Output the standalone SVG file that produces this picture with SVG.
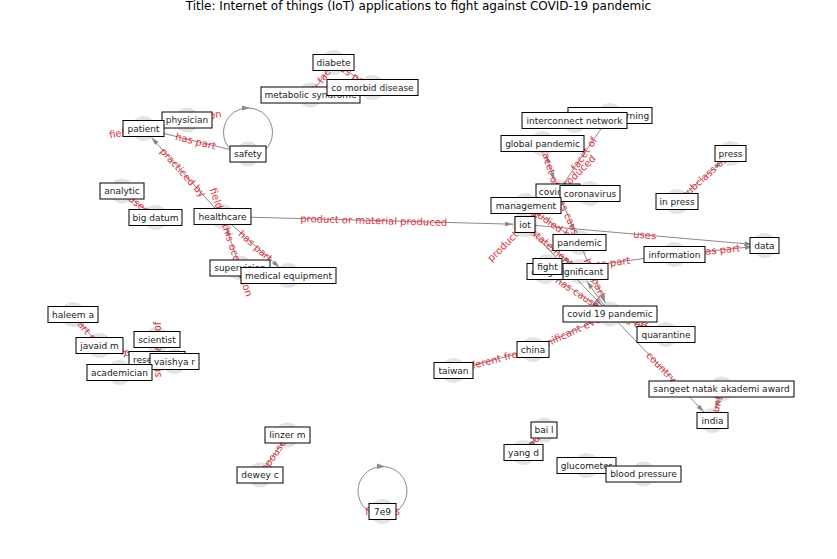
<svg xmlns="http://www.w3.org/2000/svg" width="837" height="559" viewBox="0 0 837 559">
<style>
.bg{fill:#ffffff}
.dot{fill:#e4e4e4}
.e{stroke:#8a8a8a;stroke-width:1;fill:none}
.ea{stroke:#8a8a8a;stroke-width:1;fill:none;marker-end:url(#arr)}
.el{font-family:"DejaVu Sans",sans-serif;font-size:10px;fill:#e0303c;text-anchor:middle;dominant-baseline:central}
.nb{fill:#ffffff;stroke:#000000;stroke-width:1}
.nt{font-family:"DejaVu Sans",sans-serif;font-size:9px;fill:#222222;text-anchor:middle;dominant-baseline:central}
.title{font-family:"DejaVu Sans",sans-serif;font-size:12px;fill:#000000;text-anchor:middle}
.ah{fill:#8a8a8a}
</style>
<defs>
<marker id="arr" viewBox="0 0 10 6" refX="10" refY="3" markerWidth="8" markerHeight="4.8" markerUnits="userSpaceOnUse" orient="auto-start-reverse"><path d="M0,0 L10,3 L0,6 z" fill="#8a8a8a"/></marker>
</defs>
<rect class="bg" x="0" y="0" width="837" height="559"/>
<text class="title" x="418.5" y="10">Title: Internet of things (IoT) applications to fight against COVID-19 pandemic</text>

<g id="node-markers">
<circle class="dot" cx="333.5" cy="62.5" r="12.5"/>
<circle class="dot" cx="310.5" cy="95" r="12.5"/>
<circle class="dot" cx="372.5" cy="87.5" r="12.5"/>
<circle class="dot" cx="187" cy="120" r="12.5"/>
<circle class="dot" cx="143.5" cy="128.5" r="12.5"/>
<circle class="dot" cx="248" cy="154" r="12.5"/>
<circle class="dot" cx="122" cy="191" r="12.5"/>
<circle class="dot" cx="155.5" cy="217.5" r="12.5"/>
<circle class="dot" cx="222.5" cy="216.5" r="12.5"/>
<circle class="dot" cx="240" cy="268" r="12.5"/>
<circle class="dot" cx="288.5" cy="275.5" r="12.5"/>
<circle class="dot" cx="610" cy="115.5" r="12.5"/>
<circle class="dot" cx="574.5" cy="120.5" r="12.5"/>
<circle class="dot" cx="542.5" cy="143.5" r="12.5"/>
<circle class="dot" cx="558" cy="192" r="12.5"/>
<circle class="dot" cx="590" cy="193.5" r="12.5"/>
<circle class="dot" cx="526" cy="205.5" r="12.5"/>
<circle class="dot" cx="525" cy="224.5" r="12.5"/>
<circle class="dot" cx="579.5" cy="242.5" r="12.5"/>
<circle class="dot" cx="674.5" cy="254.5" r="12.5"/>
<circle class="dot" cx="764.5" cy="245.5" r="12.5"/>
<circle class="dot" cx="730.5" cy="153.5" r="12.5"/>
<circle class="dot" cx="677" cy="201.5" r="12.5"/>
<circle class="dot" cx="545" cy="271.5" r="12.5"/>
<circle class="dot" cx="547.5" cy="266.5" r="12.5"/>
<circle class="dot" cx="580" cy="271.5" r="12.5"/>
<circle class="dot" cx="610" cy="314" r="12.5"/>
<circle class="dot" cx="666" cy="334.5" r="12.5"/>
<circle class="dot" cx="533" cy="349.5" r="12.5"/>
<circle class="dot" cx="453.5" cy="370.5" r="12.5"/>
<circle class="dot" cx="721.5" cy="389" r="12.5"/>
<circle class="dot" cx="712.5" cy="420.5" r="12.5"/>
<circle class="dot" cx="73" cy="314.5" r="12.5"/>
<circle class="dot" cx="99.5" cy="345.5" r="12.5"/>
<circle class="dot" cx="157" cy="339.5" r="12.5"/>
<circle class="dot" cx="157" cy="359.5" r="12.5"/>
<circle class="dot" cx="174.5" cy="361.5" r="12.5"/>
<circle class="dot" cx="119.5" cy="372.5" r="12.5"/>
<circle class="dot" cx="287.5" cy="435" r="12.5"/>
<circle class="dot" cx="260" cy="475" r="12.5"/>
<circle class="dot" cx="382.5" cy="511.5" r="12.5"/>
<circle class="dot" cx="544" cy="430" r="12.5"/>
<circle class="dot" cx="523.5" cy="452.5" r="12.5"/>
<circle class="dot" cx="586.5" cy="465.5" r="12.5"/>
<circle class="dot" cx="643.5" cy="474" r="12.5"/>
</g>

<g id="connectors">
<g id="edge-lines">
<line class="e" x1="333.5" y1="62.5" x2="310.5" y2="95"/>
<line class="e" x1="333.5" y1="62.5" x2="372.5" y2="87.5"/>
<line class="e" x1="187" y1="120" x2="143.5" y2="128.5"/>
<line class="e" x1="143.5" y1="128.5" x2="248" y2="154"/>
<circle class="e" cx="248" cy="132.5" r="24.5"/>
<path class="ah" d="M242,105.5 L250,108 L242,110.5 z"/>
<line class="ea" x1="222.5" y1="216.5" x2="151.5" y2="137.5"/>
<line class="ea" x1="240" y1="268" x2="226.4" y2="227.8"/>
<line class="ea" x1="222.5" y1="216.5" x2="279.5" y2="267.5"/>
<line class="e" x1="122" y1="191" x2="155.5" y2="217.5"/>
<line class="ea" x1="222.5" y1="216.5" x2="513" y2="224.2"/>
<line class="e" x1="525" y1="224.5" x2="558" y2="192"/>
<line class="ea" style="marker-start:url(#arr)" x1="546.2" y1="155" x2="554.3" y2="180.6"/>
<line class="e" x1="558" y1="192" x2="610" y2="115.5"/>
<line class="ea" x1="558" y1="192" x2="574.8" y2="231.5"/>
<line class="e" x1="526" y1="205.5" x2="579.5" y2="242.5"/>
<line class="ea" x1="525" y1="224.5" x2="570.9" y2="263.7"/>
<line class="ea" x1="525" y1="224.5" x2="601.7" y2="305.3"/>
<line class="ea" x1="545" y1="271.5" x2="600" y2="307.4"/>
<line class="ea" x1="579.5" y1="242.5" x2="605.3" y2="303"/>
<line class="ea" x1="610" y1="314" x2="586.9" y2="281.3"/>
<line class="e" x1="545" y1="271.5" x2="674.5" y2="254.5"/>
<line class="ea" x1="525" y1="224.5" x2="752.5" y2="244.4"/>
<line class="ea" x1="674.5" y1="254.5" x2="752.6" y2="246.7"/>
<line class="ea" x1="677" y1="201.5" x2="721.6" y2="161.5"/>
<line class="e" x1="533" y1="349.5" x2="610" y2="314"/>
<line class="e" x1="453.5" y1="370.5" x2="533" y2="349.5"/>
<line class="e" x1="610" y1="314" x2="666" y2="334.5"/>
<line class="ea" x1="610" y1="314" x2="703.9" y2="411.9"/>
<line class="ea" x1="721.5" y1="389" x2="715.8" y2="409"/>
<line class="e" x1="73" y1="314.5" x2="99.5" y2="345.5"/>
<line class="e" x1="99.5" y1="345.5" x2="157" y2="359.5"/>
<line class="e" x1="157" y1="359.5" x2="157" y2="339.5"/>
<line class="e" x1="260" y1="475" x2="287.5" y2="435"/>
<line class="ea" x1="523.5" y1="452.5" x2="535.9" y2="438.9"/>
<circle class="e" cx="382.5" cy="491" r="24.5"/>
<path class="ah" d="M377,463.5 L385,466.5 L377,469 z"/>
</g>
<g id="edge-labels">
<text class="el" transform="translate(322,78.75) rotate(-54.7)">risk factor</text>
<text class="el" transform="translate(353,75) rotate(32.7)">has part</text>
<text class="el" transform="translate(165.25,124.25) rotate(-11)">field of this occupation</text>
<text class="el" transform="translate(195.75,141.25) rotate(13.7)">has part</text>
<text class="el" transform="translate(183,172.5) rotate(48.1)">practiced by</text>
<text class="el" transform="translate(231.25,242.25) rotate(71.2)">field of this occupation</text>
<text class="el" transform="translate(255.5,246) rotate(41.8)">has part</text>
<text class="el" transform="translate(138.75,204.25) rotate(38.3)">uses</text>
<text class="el" transform="translate(373.75,220.5) rotate(1.5)">product or material produced</text>
<text class="el" transform="translate(541.5,208.25) rotate(-44.6)">product or material produced</text>
<text class="el" transform="translate(550.25,167.75) rotate(72.3)">facet of</text>
<text class="el" transform="translate(584,153.75) rotate(-55.8)">facet of</text>
<text class="el" transform="translate(568.75,217.25) rotate(66.9)">has cause</text>
<text class="el" transform="translate(552.75,224) rotate(34.7)">studied by</text>
<text class="el" transform="translate(552.5,248) rotate(40.5)">statement</text>
<text class="el" transform="translate(577.5,292.75) rotate(33.2)">has cause</text>
<text class="el" transform="translate(594.75,278.25) rotate(66.9)">has part</text>
<text class="el" transform="translate(609.75,263) rotate(-7.5)">has part</text>
<text class="el" transform="translate(644.75,235) rotate(5)">uses</text>
<text class="el" transform="translate(719.5,250) rotate(-5.7)">has part</text>
<text class="el" transform="translate(703.75,177.5) rotate(-41.9)">subclass of</text>
<text class="el" transform="translate(571.5,331.75) rotate(-24.8)">significant event</text>
<text class="el" transform="translate(493.25,360) rotate(-14.8)">different from</text>
<text class="el" transform="translate(638,324.25) rotate(20.1)">has effect</text>
<text class="el" transform="translate(661.25,367.25) rotate(46.1)">country</text>
<text class="el" transform="translate(717,404.75) rotate(-74)">country</text>
<text class="el" transform="translate(86.25,330) rotate(49.5)">part of</text>
<text class="el" transform="translate(128.25,352.5) rotate(13.7)">occupation</text>
<text class="el" transform="translate(157,349.5) rotate(-90)">subclass of</text>
<text class="el" transform="translate(273.75,455) rotate(-55.5)">spouse</text>
<text class="el" transform="translate(533.75,441.25) rotate(-47.7)">spouse</text>
<text class="el" transform="translate(382.5,511.5)">follows</text>
</g>
</g>

<g id="n-diabete"><rect class="nb" x="313" y="54.5" width="41" height="16"/><text class="nt" x="333.5" y="62.5">diabete</text></g>
<g id="n-metabolic-syndrome"><rect class="nb" x="261" y="87" width="99" height="16"/><text class="nt" x="310.5" y="95">metabolic syndrome</text></g>
<g id="n-co-morbid-disease"><rect class="nb" x="327" y="79.5" width="91" height="16"/><text class="nt" x="372.5" y="87.5">co morbid disease</text></g>
<g id="n-physician"><rect class="nb" x="162" y="112" width="50" height="16"/><text class="nt" x="187" y="120">physician</text></g>
<g id="n-patient"><rect class="nb" x="123" y="120.5" width="41" height="16"/><text class="nt" x="143.5" y="128.5">patient</text></g>
<g id="n-safety"><rect class="nb" x="230" y="146" width="36" height="16"/><text class="nt" x="248" y="154">safety</text></g>
<g id="n-analytic"><rect class="nb" x="100" y="183" width="44" height="16"/><text class="nt" x="122" y="191">analytic</text></g>
<g id="n-big-datum"><rect class="nb" x="129" y="209.5" width="53" height="16"/><text class="nt" x="155.5" y="217.5">big datum</text></g>
<g id="n-healthcare"><rect class="nb" x="194" y="208.5" width="57" height="16"/><text class="nt" x="222.5" y="216.5">healthcare</text></g>
<g id="n-supervision"><rect class="nb" x="210" y="260" width="60" height="16"/><text class="nt" x="240" y="268">supervision</text></g>
<g id="n-medical-equipment"><rect class="nb" x="241" y="267.5" width="95" height="16"/><text class="nt" x="288.5" y="275.5">medical equipment</text></g>
<g id="n-machine-learning"><rect class="nb" x="568" y="107.5" width="84" height="16"/><text class="nt" x="610" y="115.5">machine learning</text></g>
<g id="n-interconnect-network"><rect class="nb" x="522" y="112.5" width="105" height="16"/><text class="nt" x="574.5" y="120.5">interconnect network</text></g>
<g id="n-global-pandemic"><rect class="nb" x="501" y="135.5" width="83" height="16"/><text class="nt" x="542.5" y="143.5">global pandemic</text></g>
<g id="n-covid-19"><rect class="nb" x="536" y="184" width="44" height="16"/><text class="nt" x="558" y="192">covid 19</text></g>
<g id="n-coronavirus"><rect class="nb" x="560" y="185.5" width="60" height="16"/><text class="nt" x="590" y="193.5">coronavirus</text></g>
<g id="n-management"><rect class="nb" x="491" y="197.5" width="70" height="16"/><text class="nt" x="526" y="205.5">management</text></g>
<g id="n-iot"><rect class="nb" x="515" y="216.5" width="20" height="16"/><text class="nt" x="525" y="224.5">iot</text></g>
<g id="n-pandemic"><rect class="nb" x="553" y="234.5" width="53" height="16"/><text class="nt" x="579.5" y="242.5">pandemic</text></g>
<g id="n-information"><rect class="nb" x="644" y="246.5" width="61" height="16"/><text class="nt" x="674.5" y="254.5">information</text></g>
<g id="n-data"><rect class="nb" x="750" y="237.5" width="29" height="16"/><text class="nt" x="764.5" y="245.5">data</text></g>
<g id="n-press"><rect class="nb" x="715" y="145.5" width="31" height="16"/><text class="nt" x="730.5" y="153.5">press</text></g>
<g id="n-in-press"><rect class="nb" x="656" y="193.5" width="42" height="16"/><text class="nt" x="677" y="201.5">in press</text></g>
<g id="n-significant"><rect class="nb" x="552" y="263.5" width="56" height="16"/><text class="nt" x="580" y="271.5">significant</text></g>
<g id="n-cough"><rect class="nb" x="527" y="263.5" width="36" height="16"/><text class="nt" x="545" y="271.5">cough</text></g>
<g id="n-fight"><rect class="nb" x="533" y="258.5" width="29" height="16"/><text class="nt" x="547.5" y="266.5">fight</text></g>
<g id="n-covid-19-pandemic"><rect class="nb" x="563" y="306" width="94" height="16"/><text class="nt" x="610" y="314">covid 19 pandemic</text></g>
<g id="n-quarantine"><rect class="nb" x="637" y="326.5" width="58" height="16"/><text class="nt" x="666" y="334.5">quarantine</text></g>
<g id="n-china"><rect class="nb" x="517" y="341.5" width="32" height="16"/><text class="nt" x="533" y="349.5">china</text></g>
<g id="n-taiwan"><rect class="nb" x="434" y="362.5" width="39" height="16"/><text class="nt" x="453.5" y="370.5">taiwan</text></g>
<g id="n-sangeet-natak-akademi-award"><rect class="nb" x="649" y="381" width="145" height="16"/><text class="nt" x="721.5" y="389">sangeet natak akademi award</text></g>
<g id="n-india"><rect class="nb" x="697" y="412.5" width="31" height="16"/><text class="nt" x="712.5" y="420.5">india</text></g>
<g id="n-haleem-a"><rect class="nb" x="48" y="306.5" width="50" height="16"/><text class="nt" x="73" y="314.5">haleem a</text></g>
<g id="n-javaid-m"><rect class="nb" x="76" y="337.5" width="47" height="16"/><text class="nt" x="99.5" y="345.5">javaid m</text></g>
<g id="n-scientist"><rect class="nb" x="134" y="331.5" width="46" height="16"/><text class="nt" x="157" y="339.5">scientist</text></g>
<g id="n-researcher"><rect class="nb" x="129" y="351.5" width="56" height="16"/><text class="nt" x="157" y="359.5">researcher</text></g>
<g id="n-vaishya-r"><rect class="nb" x="150" y="353.5" width="49" height="16"/><text class="nt" x="174.5" y="361.5">vaishya r</text></g>
<g id="n-academician"><rect class="nb" x="87" y="364.5" width="65" height="16"/><text class="nt" x="119.5" y="372.5">academician</text></g>
<g id="n-linzer-m"><rect class="nb" x="265" y="427" width="45" height="16"/><text class="nt" x="287.5" y="435">linzer m</text></g>
<g id="n-dewey-c"><rect class="nb" x="237" y="467" width="46" height="16"/><text class="nt" x="260" y="475">dewey c</text></g>
<g id="n-7e9"><rect class="nb" x="369" y="503.5" width="27" height="16"/><text class="nt" x="382.5" y="511.5">7e9</text></g>
<g id="n-bai-l"><rect class="nb" x="531" y="422" width="26" height="16"/><text class="nt" x="544" y="430">bai l</text></g>
<g id="n-yang-d"><rect class="nb" x="504" y="444.5" width="39" height="16"/><text class="nt" x="523.5" y="452.5">yang d</text></g>
<g id="n-glucometer"><rect class="nb" x="557" y="457.5" width="59" height="16"/><text class="nt" x="586.5" y="465.5">glucometer</text></g>
<g id="n-blood-pressure"><rect class="nb" x="606" y="466" width="75" height="16"/><text class="nt" x="643.5" y="474">blood pressure</text></g>
</svg>
